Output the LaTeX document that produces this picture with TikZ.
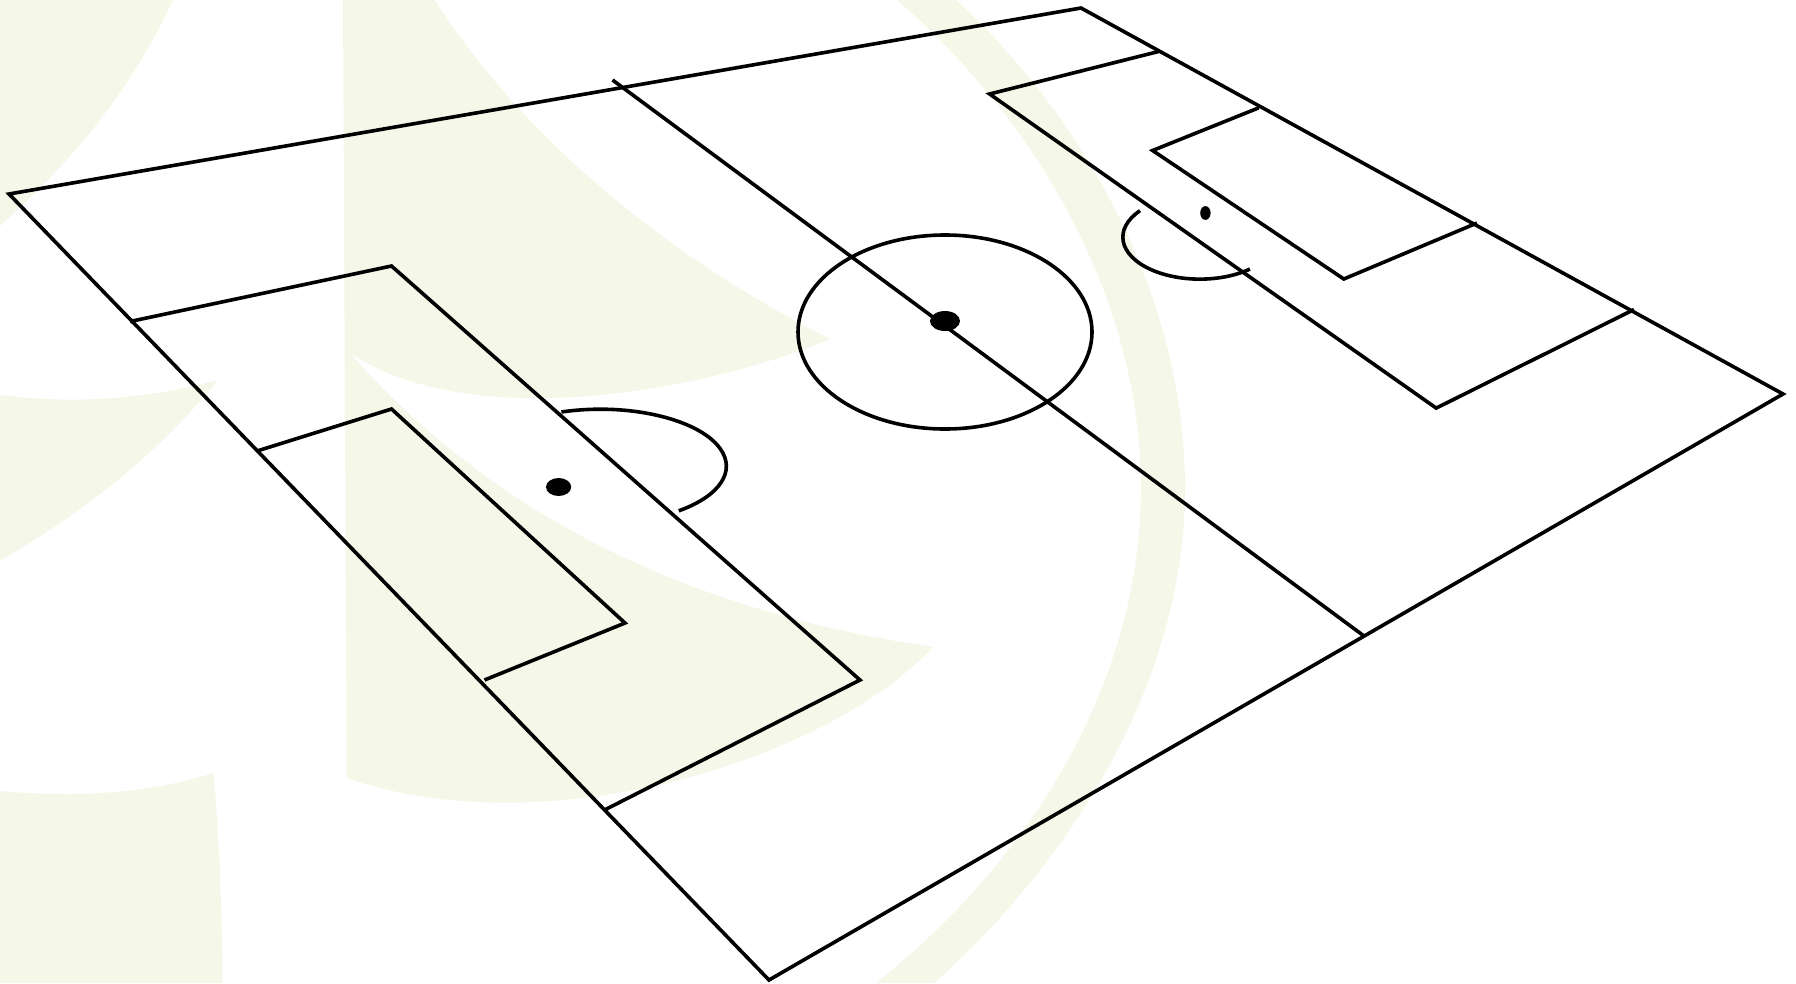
\documentclass[tikz,border=0pt]{standalone}
\usepackage{tikz}
\usetikzlibrary{calc}
\definecolor{paleleaf}{RGB}{245,247,232}

\begin{document}
\begin{tikzpicture}[linemark/.style={line width=0.036cm, line join=miter}, spotmark/.style={fill=black}, leaf/.style={fill=paleleaf}]
        \useasboundingbox (0,0) rectangle (17.96,9.83);
        \clip (0,0) rectangle (17.96,9.83);

        % faint background
        \fill[leaf] (0,9.83) -- (1.73,9.83) .. controls (1.3,8.9) and (0.7,8.2) .. (0,7.57) -- cycle;
        \fill[leaf] (0,5.88) .. controls (0.8,5.78) and (1.5,5.85) .. (2.18,6.03) .. controls (1.5,5.2) and (0.8,4.7) .. (0,4.22) -- cycle;
        \fill[leaf] (0,1.92) .. controls (0.8,1.85) and (1.5,1.9) .. (2.135,2.10) .. controls (2.19,1.5) and (2.22,0.7) .. (2.227,0) -- (0,0) -- cycle;
        \fill[leaf] (3.43,9.83) -- (4.346,9.83) .. controls (5.2,8.5) and (6.6,7.3) .. (8.30,6.44)
                .. controls (7.0,5.9) and (4.7,5.5) .. (3.50,6.30)
                .. controls (5,4.6) and (7,3.7) .. (9.33,3.36)
                .. controls (8.3,2.25) and (5.5,1.35) .. (3.467,2.05) -- cycle;
        \fill[leaf] (8.97,9.83) -- (9.56,9.83) .. controls (10.9,8.6) and (11.85,6.8) .. (11.85,4.95)
                .. controls (11.85,3.1) and (10.8,1.3) .. (9.34,0) -- (8.76,0)
                .. controls (10.4,1.3) and (11.41,3.1) .. (11.41,4.95)
                .. controls (11.41,6.8) and (10.4,8.6) .. (8.97,9.83) -- cycle;

        \path
        (0.09,7.89) coordinate (cornerW)
        (10.81,9.75) coordinate (cornerN)
        (17.83,5.89) coordinate (cornerE)
        (7.69,0.03) coordinate (cornerS)
        (6.125,9.03) coordinate (halfN)
        (13.64,3.47) coordinate (halfS)
        (1.30,6.615) coordinate (boxLa)
        (3.915,7.17) coordinate (boxLb)
        (8.60,3.03) coordinate (boxLc)
        (6.035,1.725) coordinate (boxLd)
        (2.57,5.32) coordinate (goalLa)
        (3.915,5.74) coordinate (goalLb)
        (6.25,3.60) coordinate (goalLc)
        (4.845,3.03) coordinate (goalLd)
        (11.59,9.316) coordinate (boxRa)
        (9.896,8.89) coordinate (boxRb)
        (14.362,5.749) coordinate (boxRc)
        (16.34,6.735) coordinate (boxRd)
        (12.588,8.752) coordinate (goalRa)
        (11.526,8.325) coordinate (goalRb)
        (13.438,7.04) coordinate (goalRc)
        (14.77,7.60) coordinate (goalRd)
        (9.45,6.51) coordinate (centreC)
        (9.45,6.62) coordinate (centreS)
        (5.586,4.96) coordinate (spotL)
        (12.054,7.70) coordinate (spotR)
        (5.614,5.71) coordinate (arcL)
        (11.40,7.723) coordinate (arcR)
        ;

        \draw[linemark] (cornerW) -- (cornerN) -- (cornerE) -- (cornerS) -- cycle;
        \draw[linemark] (halfN) -- (halfS);
        \draw[linemark] (boxLa) -- (boxLb) -- (boxLc) -- (boxLd);
        \draw[linemark] (goalLa) -- (goalLb) -- (goalLc) -- (goalLd);
        \draw[linemark] (boxRa) -- (boxRb) -- (boxRc) -- (boxRd);
        \draw[linemark] (goalRa) -- (goalRb) -- (goalRc) -- (goalRd);

        \draw[linemark] (centreC) ellipse (1.47 and 0.97);
        \draw[linemark] (arcL) arc[start angle=108, end angle=-51.5, x radius=1.26, y radius=0.57];
        \draw[linemark] (arcR) arc[start angle=141, end angle=310.5, x radius=0.77, y radius=0.42];

        \fill[spotmark] (centreS) ellipse (0.15 and 0.10);
        \fill[spotmark] (spotL) ellipse (0.126 and 0.09);
        \fill[spotmark] (spotR) ellipse (0.052 and 0.069);
\end{tikzpicture}
\end{document}
